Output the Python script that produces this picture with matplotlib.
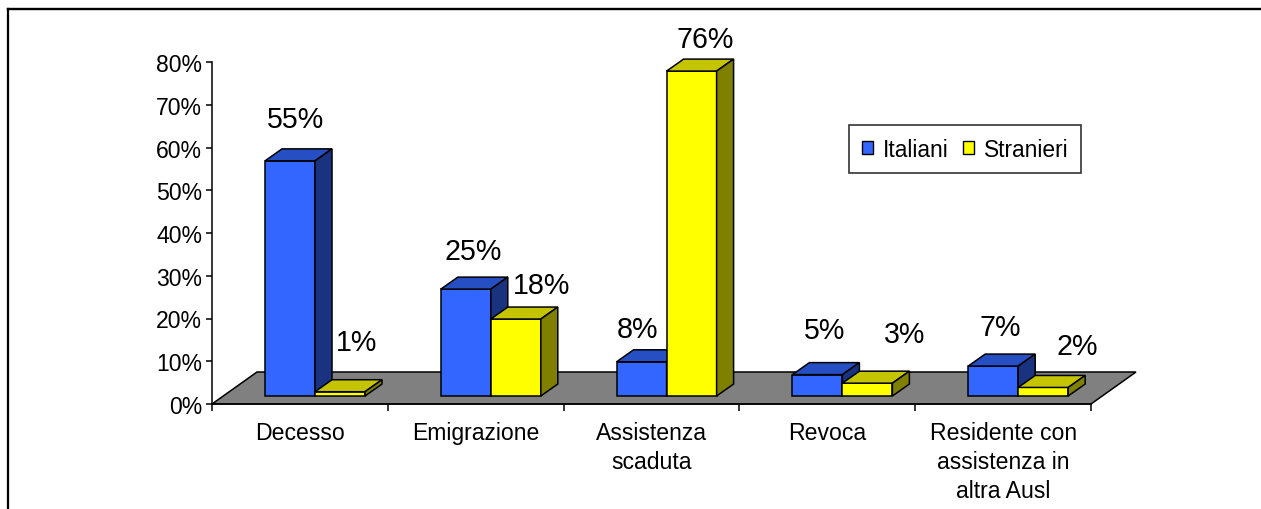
import matplotlib
matplotlib.use('Agg')
import matplotlib.pyplot as plt
from matplotlib.patches import Polygon, Patch
from matplotlib.lines import Line2D

# ---------------- data ----------------
categories = ["Decesso", "Emigrazione", "Assistenza\nscaduta", "Revoca",
              "Residente con\nassistenza in\naltra Ausl"]
series_names = ["Italiani", "Stranieri"]
italiani = [55, 25, 8, 5, 7]
stranieri = [1, 18, 76, 3, 2]
yticks = [0, 10, 20, 30, 40, 50, 60, 70, 80]
ytick_labels = [f"{v}%" for v in yticks]

# label offsets (pixels) from front-top centre of each bar (Excel 3D placement)
label_off_ita = [(5.5, -44), (7.7, -40), (-3.7, -35), (7.5, -46.7), (6.6, -41.6)]
label_off_str = [(16.4, -52), (26, -36), (14, -34), (37, -51), (34, -44)]

plt.rcParams['font.family'] = ['Liberation Sans', 'DejaVu Sans']

W, H = 1261, 510
fig = plt.figure(figsize=(W / 100, H / 100), dpi=100)
fig.patch.set_facecolor('white')

ax_l, ax_r, ax_t, ax_b = 212, 1091, 63, 405
ax = fig.add_axes([ax_l / W, 1 - ax_b / H, (ax_r - ax_l) / W, (ax_b - ax_t) / H])
ncat = len(categories)
ax.set_xlim(0, ncat)
ax.set_ylim(0, 80)
px_x = (ax_r - ax_l) / ncat
px_y = (ax_b - ax_t) / 80.0


def dx(p):
    return p / px_x


def dy(p):
    return p / px_y


ec = 'black'
elw = 1.1

# floor
fd_x, fd_y = dx(45), dy(32)
floor = Polygon([(0, 0), (ncat, 0), (ncat + fd_x, fd_y), (fd_x, fd_y)],
                closed=True, fc='#808080', ec=ec, lw=elw, clip_on=False, zorder=1)
ax.add_patch(floor)

base = dy(8)
bar_left = dx(53)
bar_w = dx(50)
ddx, ddy = dx(17), dy(12)

colors = {
    "Italiani": ('#3366FF', '#264FC4', '#1A3380'),
    "Stranieri": ('#FFFF00', '#C4C400', '#808000'),
}


def draw_bar(x0, value, cols):
    x1 = x0 + bar_w
    b = base
    t = base + value
    front, top, side = cols
    ax.add_patch(Polygon([(x0, b), (x1, b), (x1, t), (x0, t)], closed=True,
                         fc=front, ec=ec, lw=elw, clip_on=False, zorder=3))
    ax.add_patch(Polygon([(x0, t), (x1, t), (x1 + ddx, t + ddy), (x0 + ddx, t + ddy)],
                         closed=True, fc=top, ec=ec, lw=elw, clip_on=False, zorder=3))
    ax.add_patch(Polygon([(x1, b), (x1 + ddx, b + ddy), (x1 + ddx, t + ddy), (x1, t)],
                         closed=True, fc=side, ec=ec, lw=elw, clip_on=False, zorder=3))
    return (x0 + x1) / 2, t


label_fs = 20.6
cap_px = 0.716 * label_fs * 100 / 72

for i in range(ncat):
    for s, (name, vals, offs) in enumerate([("Italiani", italiani, label_off_ita),
                                             ("Stranieri", stranieri, label_off_str)]):
        x0 = i + bar_left + s * bar_w
        cx, t = draw_bar(x0, vals[i], colors[name])
        ox, oy = offs[i]
        ax.annotate(f"{vals[i]}%", xy=(cx, t), xytext=(ox * 0.72, (-oy - cap_px / 2) * 0.72),
                    textcoords='offset points', ha='center', va='baseline',
                    fontsize=label_fs, color='black', annotation_clip=False, zorder=5)

# axes styling
for sp in ['top', 'right']:
    ax.spines[sp].set_visible(False)
for sp in ['left', 'bottom']:
    ax.spines[sp].set_linewidth(1.1)
    ax.spines[sp].set_zorder(4)
ax.patch.set_alpha(0)

ax.set_yticks(yticks)
ax.set_yticklabels(ytick_labels)
ax.tick_params(axis='y', direction='out', length=4, width=1.1, labelsize=16.6, pad=3)

ax.set_xticks(range(ncat + 1))
ax.set_xticklabels([''] * (ncat + 1))
ax.set_xticks([i + 0.5 for i in range(ncat)], minor=True)
ax.set_xticklabels(categories, minor=True, fontsize=16.6, linespacing=1.35)
ax.tick_params(axis='x', which='major', direction='out', length=5, width=1.1)
ax.tick_params(axis='x', which='minor', length=0, pad=12)

# legend
handles = [Patch(fc=colors[n][0], ec='black', lw=1.0) for n in series_names]
leg = fig.legend(handles, series_names, loc='upper left',
                 bbox_to_anchor=(849 / W, 1 - 126 / H), bbox_transform=fig.transFigure,
                 ncol=2, fontsize=16.4, frameon=True, fancybox=False, shadow=False,
                 handlelength=0.5, handleheight=0.5, handletextpad=0.45,
                 columnspacing=0.6, borderpad=0.55, borderaxespad=0)
leg.get_frame().set_edgecolor('black')
leg.get_frame().set_linewidth(1.2)

# outer frame (partially visible)
fig.add_artist(Line2D([8 / W, 8 / W], [1 - 10 / H, 0], transform=fig.transFigure,
                      color='black', lw=1.6))
fig.add_artist(Line2D([8 / W, 1], [1 - 10 / H, 1 - 10 / H], transform=fig.transFigure,
                      color='black', lw=1.7))

fig.savefig('out.png', dpi=100)
